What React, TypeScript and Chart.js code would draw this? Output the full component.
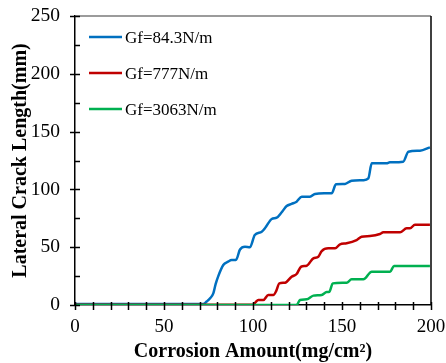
import React, { useEffect, useRef } from 'react';
import { Chart, registerables } from 'chart.js';

Chart.register(...registerables);

const seriesLabels = ['Gf=84.3N/m', 'Gf=777N/m', 'Gf=3063N/m'];
const seriesColors = ['#0070C0', '#C00000', '#00B050'];

const blueX = [0, 72, 74, 76, 77.7, 79, 80.5, 83.3, 86, 88, 90.4, 92.7, 95.5, 98.3, 101, 104.9, 107, 110.5, 113.3, 116, 118.9, 121.7, 124.5, 127.4, 132, 134.8, 140, 144.2, 146.6, 151.7, 155.4, 162, 164.8, 166.7, 175, 176.9, 184.4, 187.3, 193.8, 199.4];
const blueY = [0.8, 0.8, 3, 6, 10, 18, 25, 34.6, 37.5, 38.9, 38.9, 48, 50.4, 50, 60.5, 63.4, 67, 74.4, 75.5, 80, 85.6, 87.5, 89.4, 93.7, 93.7, 96, 96.6, 96.6, 104.4, 104.7, 107.5, 108, 109.6, 122.6, 122.6, 123.4, 124, 132.6, 133.5, 136.4];

const redX = [0, 100.2, 101.5, 103, 105.8, 108.6, 111.4, 113, 114.8, 118, 121.7, 124.5, 127, 130.2, 133.9, 136.7, 138.6, 142.3, 146.1, 148.9, 152.6, 158.2, 161, 165.7, 171.3, 173.2, 182.6, 186.3, 188.2, 191, 199.4];
const redY = [0.3, 0.3, 2.5, 4.3, 4.3, 8.7, 8.7, 12, 18.7, 19.3, 24.5, 26.8, 33.1, 34, 40.4, 41.8, 46.7, 49, 49, 52.5, 53.4, 56.2, 59.1, 59.7, 61.4, 62.9, 62.9, 66.3, 66.3, 69.5, 69.5];

const greenX = [0, 124.5, 126.4, 130.2, 133.9, 138.6, 141.4, 142.9, 144.8, 152.6, 155.4, 162, 166.7, 177, 179.2, 199.4];
const greenY = [0, 0, 4.3, 4.9, 8.1, 8.7, 11.2, 11.5, 18.7, 19.3, 22.2, 22.2, 28.8, 28.8, 33.7, 33.7];

const xTitle = 'Corrosion Amount(mg/cm²)';
const yTitle = 'Lateral Crack Length(mm)'.replace('Length (', 'Length(');

const FONT = "'Liberation Serif', 'Times New Roman', serif";

const toPoints = (xs: number[], ys: number[]) => xs.map((x, i) => ({ x, y: ys[i] }));

const decorPlugin = {
  id: 'decor',
  afterDraw(chart: any) {
    const { ctx, chartArea } = chart;
    const xs = chart.scales.x;
    const ys = chart.scales.y;
    ctx.save();
    ctx.strokeStyle = '#7a7a7a';
    ctx.lineWidth = 1.5;
    ctx.beginPath();
    ctx.moveTo(chartArea.left, chartArea.top);
    ctx.lineTo(chartArea.right, chartArea.top);
    ctx.stroke();
    ctx.strokeStyle = '#000';
    ctx.beginPath();
    ctx.moveTo(chartArea.right, chartArea.top);
    ctx.lineTo(chartArea.right, chartArea.bottom);
    ctx.stroke();
    ctx.lineWidth = 1.5;
    ctx.strokeStyle = '#000';
    ys.ticks.forEach((t: any) => {
      const py = Math.round(ys.getPixelForValue(t.value)) + 0.5;
      const major = t.value % 50 === 0;
      ctx.beginPath();
      ctx.moveTo(chartArea.left - (major ? 5 : 0), py);
      ctx.lineTo(chartArea.left + 5, py);
      ctx.stroke();
    });
    xs.ticks.forEach((t: any) => {
      const px = Math.round(xs.getPixelForValue(t.value)) + 0.5;
      ctx.beginPath();
      ctx.moveTo(px, chartArea.bottom - 3);
      ctx.lineTo(px, chartArea.bottom + 5);
      ctx.stroke();
    });
    const lx = chartArea.left + 14;
    const ly0 = chartArea.top + 21;
    ctx.font = `17px ${FONT}`;
    ctx.textBaseline = 'middle';
    ctx.textAlign = 'left';
    seriesLabels.forEach((lab, i) => {
      const y = ly0 + i * 36;
      ctx.strokeStyle = seriesColors[i];
      ctx.lineWidth = 2.5;
      ctx.beginPath();
      ctx.moveTo(lx, y);
      ctx.lineTo(lx + 33, y);
      ctx.stroke();
      ctx.fillStyle = '#000';
      ctx.fillText(lab, lx + 36, y + 1.5);
    });
    ctx.restore();
  },
};

export default function App() {
  const ref = useRef<HTMLCanvasElement>(null);
  useEffect(() => {
    if (!ref.current) return;
    const series = [toPoints(blueX, blueY), toPoints(redX, redY), toPoints(greenX, greenY)];
    const chart = new Chart(ref.current, {
      type: 'line',
      data: {
        datasets: series.map((d, i) => ({
          label: seriesLabels[i],
          data: d,
          borderColor: seriesColors[i],
          backgroundColor: seriesColors[i],
          borderWidth: 2.5,
          pointRadius: 0,
          cubicInterpolationMode: 'monotone' as const,
          order: 2 - i,
        })),
      },
      options: {
        responsive: false,
        animation: false,
        devicePixelRatio: 1,
        layout: { padding: { left: 0, top: 16, right: 15, bottom: 0 } },
        plugins: { legend: { display: false }, tooltip: { enabled: false } },
        scales: {
          x: {
            type: 'linear',
            min: 0,
            max: 200,
            grid: { display: false, drawTicks: false },
            border: { display: true, color: '#000', width: 1.5 },
            ticks: {
              stepSize: 10,
              padding: 11,
              color: '#000',
              maxRotation: 0,
              autoSkip: false,
              font: { family: FONT, size: 19 },
              callback: (v: any) => (Number(v) % 50 === 0 ? String(v) : ''),
            },
            title: {
              display: true,
              text: xTitle,
              color: '#000',
              font: { family: FONT, size: 20, weight: 'bold' },
              padding: { top: 0, bottom: -1 },
            },
            afterFit: (s: any) => {
              s.height = 58;
              s.paddingLeft = 0;
              s.paddingRight = 0;
            },
          },
          y: {
            type: 'linear',
            min: 0,
            max: 250,
            grid: { display: false, drawTicks: false },
            border: { display: true, color: '#000', width: 1.5 },
            ticks: {
              stepSize: 25,
              padding: 15,
              color: '#000',
              autoSkip: false,
              font: { family: FONT, size: 19.5 },
              callback: (v: any) => (Number(v) % 50 === 0 ? String(v) : ''),
            },
            title: {
              display: true,
              text: yTitle,
              color: '#000',
              font: { family: FONT, size: 20, weight: 'bold' },
              padding: { top: 9, bottom: 0 },
            },
            afterFit: (s: any) => {
              s.width = 75;
              s.paddingTop = 0;
              s.paddingBottom = 0;
            },
          },
        },
      },
      plugins: [decorPlugin],
    });
    return () => chart.destroy();
  }, []);
  return (
    <div style={{ position: 'absolute', left: 0, top: 0, width: 446, height: 363, background: '#fff' }}>
      <canvas ref={ref} width={446} height={363} style={{ display: 'block' }} />
    </div>
  );
}
